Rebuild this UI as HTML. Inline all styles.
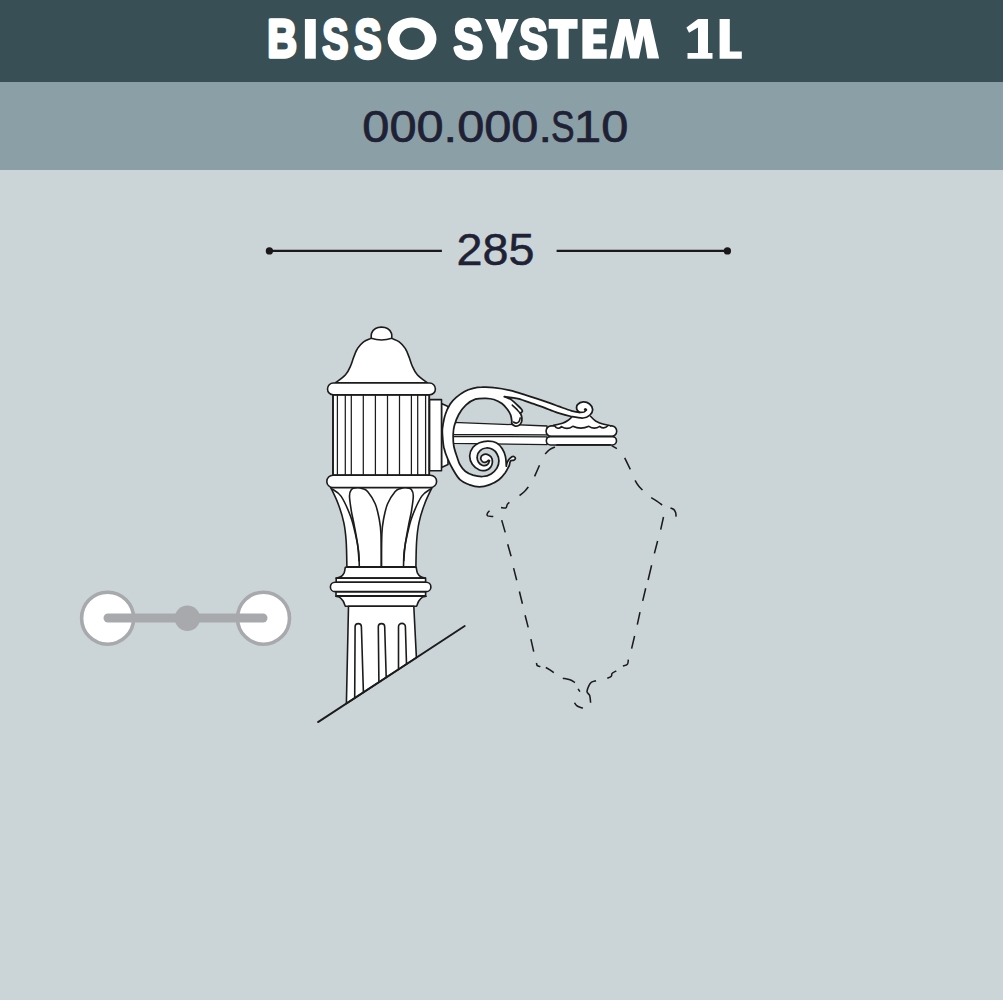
<!DOCTYPE html>
<html><head><meta charset="utf-8"><title>BISSO SYSTEM 1L</title>
<style>
html,body{margin:0;padding:0;background:#cbd5d8;}
body{width:1003px;height:1000px;overflow:hidden;font-family:"Liberation Sans",sans-serif;}
svg{display:block;}
text{font-family:"Liberation Sans",sans-serif;}
</style></head><body>
<svg width="1003" height="1000" viewBox="0 0 1003 1000">
<rect x="0" y="0" width="1003" height="1000" fill="#cbd5d8"/>
<rect x="0" y="0" width="1003" height="82" fill="#384f56"/>
<rect x="0" y="82" width="1003" height="88" fill="#8b9fa6"/>
<g fill="#ffffff">
<text transform="translate(267.35,57.00) scale(0.7800,1)" font-size="52.76" font-weight="bold" stroke="#fff" stroke-width="3.4" stroke-linejoin="round">B</text>
<rect x="304.9" y="19.0" width="10.9" height="39.7"/>
<text transform="translate(322.37,58.10) scale(0.7009,1)" font-size="55.96" font-weight="bold" stroke="#fff" stroke-width="3.4" stroke-linejoin="round">S</text>
<text transform="translate(354.22,58.10) scale(0.7308,1)" font-size="55.96" font-weight="bold" stroke="#fff" stroke-width="3.4" stroke-linejoin="round">S</text>
<path fill-rule="evenodd" d="M387.6,38.75 a24.45,21.15 0 1 0 48.9,0 a24.45,21.15 0 1 0 -48.9,0 Z M399.5,38.75 a12.7,11.2 0 1 0 25.4,0 a12.7,11.2 0 1 0 -25.4,0 Z"/>
<text transform="translate(453.43,58.10) scale(0.7904,1)" font-size="55.96" font-weight="bold" stroke="#fff" stroke-width="3.4" stroke-linejoin="round">S</text>
<polygon points="484.9,19.0 497.9,19.0 501.9,33.2 506.0,19.0 518.8,19.0 507.5,43.5 507.5,58.7 496.2,58.7 496.2,43.5"/>
<text transform="translate(519.27,58.10) scale(0.7606,1)" font-size="55.96" font-weight="bold" stroke="#fff" stroke-width="3.4" stroke-linejoin="round">S</text>
<polygon points="548.7,19.0 577.6,19.0 577.6,28.8 568.7,28.8 568.7,58.7 557.7,58.7 557.7,28.8 548.7,28.8"/>
<polygon points="582.4,19.0 606.7,19.0 606.7,28.6 593.4,28.6 593.4,34.3 605.2,34.3 605.2,43.5 593.4,43.5 593.4,49.2 606.7,49.2 606.7,58.7 582.4,58.7"/>
<polygon points="609.7,58.6 619.4,19.0 629.9,19.0 634.7,40.7 639.6,19.0 650.1,19.0 659.1,58.6 647.4,58.6 643.7,35.4 638.9,58.6 630.2,58.6 625.4,35.4 621.5,58.6"/>
<polygon points="698.0,19.0 708.0,19.0 708.0,53.1 712.5,53.1 712.5,58.8 687.5,58.8 687.5,53.1 698.0,53.1 698.0,27.6 689.0,32.7 686.4,27.6"/>
<polygon points="719.6,19.0 729.8,19.0 729.8,51.4 741.8,51.4 741.8,58.8 719.6,58.8"/>
</g>
<g fill="#1f2134" stroke="#1f2134" stroke-width="0.7" font-size="44.2"><text transform="translate(362.3,141.5) scale(1.1027,1)">000.000.</text><text transform="translate(551.0,141.5) scale(0.80,1)">S</text><text transform="translate(574.1,141.5) scale(1.1027,1)">10</text></g>
<text transform="translate(456.4,265.1) scale(1.035,1)" font-size="45.2" fill="#1f2134" stroke="#1f2134" stroke-width="0.5">285</text>
<g stroke="#1b181a" stroke-width="2.2" fill="#1b181a">
<line x1="269.4" y1="250.9" x2="441.9" y2="250.9"/>
<line x1="556.6" y1="250.9" x2="727.4" y2="250.9"/>
<circle cx="269.4" cy="250.9" r="3.65" stroke="none"/>
<circle cx="727.4" cy="250.9" r="3.65" stroke="none"/>
</g>
<!-- side icon -->
<g>
<circle cx="107.6" cy="618.2" r="26" fill="#ffffff" stroke="#a7a9ac" stroke-width="3.6"/>
<circle cx="263.5" cy="618.2" r="26" fill="#ffffff" stroke="#a7a9ac" stroke-width="3.6"/>
<line x1="108" y1="618" x2="263" y2="618" stroke="#a7a9ac" stroke-width="9" stroke-linecap="round"/>
<circle cx="187.4" cy="618.2" r="12.7" fill="#a7a9ac"/>
</g>
<!-- lamp -->
<g fill="#ffffff" stroke="#1c1c1c" stroke-width="1.6" stroke-linecap="round" stroke-linejoin="round">
<path d="M335.6,382.7C337.2,381.4 343.1,377.6 345.5,374.8 C348.0,372.1 349.2,369.0 350.5,366.1 C351.9,363.2 352.5,360.3 353.6,357.4 C354.8,354.5 355.7,351.3 357.4,348.7 C359.0,346.1 361.3,343.5 363.6,341.8 C365.9,340.1 370.0,339.0 371.2,338.4C371.3,337.6 370.9,334.7 371.6,333.1 C372.3,331.4 373.8,329.5 375.5,328.5 C377.1,327.5 379.5,327.1 381.5,327.1 C383.5,327.1 385.9,327.5 387.5,328.5 C389.2,329.5 390.7,331.4 391.4,333.1 C392.1,334.7 391.7,337.6 391.8,338.4C392.8,339.0 396.9,340.1 399.2,341.8 C401.5,343.5 403.8,346.1 405.4,348.7 C407.1,351.3 408.0,354.5 409.2,357.4 C410.3,360.3 410.9,363.2 412.3,366.1 C413.6,369.0 414.8,372.1 417.3,374.8 C419.7,377.6 425.6,381.4 427.2,382.7Z"/>
<path d="M371.2,338.3 Q381.4,341.6 391.8,338.3" fill="none"/>
<rect x="333" y="394.8" width="96.2" height="80.4" stroke-width="1.9"/>
<line x1="337.4" y1="394.8" x2="337.4" y2="475" stroke-width="1.25"/>
<line x1="345.3" y1="394.8" x2="345.3" y2="475" stroke-width="1.25"/>
<line x1="351.3" y1="394.8" x2="351.3" y2="475" stroke-width="1.25"/>
<line x1="363.3" y1="394.8" x2="363.3" y2="475" stroke-width="1.25"/>
<line x1="375.4" y1="394.8" x2="375.4" y2="475" stroke-width="1.25"/>
<line x1="387.5" y1="394.8" x2="387.5" y2="475" stroke-width="1.25"/>
<line x1="399.5" y1="394.8" x2="399.5" y2="475" stroke-width="1.25"/>
<line x1="411.4" y1="394.8" x2="411.4" y2="475" stroke-width="1.25"/>
<line x1="417.7" y1="394.8" x2="417.7" y2="475" stroke-width="1.25"/>
<line x1="425.6" y1="394.8" x2="425.6" y2="475" stroke-width="1.25"/>
<rect x="327.5" y="383" width="107.9" height="11.8" rx="5.9"/>
<path d="M330.5,487.1C331.8,489.9 335.9,497.8 338.1,503.7 C340.4,509.7 342.5,516.4 343.8,522.7 C345.2,529.1 345.7,534.4 346.2,541.7 C346.7,549.1 346.8,562.7 346.9,566.9L415.9,566.9C416.0,562.7 416.1,549.1 416.6,541.7 C417.1,534.4 417.6,529.1 419.0,522.7 C420.3,516.4 422.4,509.7 424.7,503.7 C426.9,497.8 431.0,489.9 432.3,487.1Z"/>
<path d="M331.5,488.5C333.1,489.8 337.8,491.6 341.0,496.1 C344.2,500.7 348.1,509.9 350.5,516.1 C352.9,522.3 353.9,527.3 355.2,533.2 C356.6,539.0 357.9,545.6 358.6,551.2 C359.2,556.8 359.2,564.3 359.3,566.9" fill="none"/>
<path d="M431.3,488.5C429.7,489.8 425.0,491.6 421.8,496.1 C418.6,500.7 414.7,509.9 412.3,516.1 C409.9,522.3 408.9,527.3 407.6,533.2 C406.2,539.0 404.9,545.6 404.2,551.2 C403.6,556.8 403.6,564.3 403.5,566.9" fill="none"/>
<path d="M359.0,560.7C358.8,558.0 358.4,550.4 357.6,544.6 C356.8,538.7 355.3,531.1 354.3,525.6 C353.3,520.0 352.2,516.2 351.4,511.3 C350.6,506.4 349.5,499.8 349.5,496.1 C349.5,492.5 350.3,490.9 351.4,489.5 C352.5,488.1 354.4,487.8 356.2,487.6 C357.9,487.4 360.0,487.7 361.9,488.4 C363.8,489.0 365.4,488.8 367.6,491.4 C369.8,494.0 373.3,499.3 375.2,503.7 C377.1,508.2 378.0,513.1 379.0,518.0 C379.9,522.9 380.5,525.0 380.9,533.2 C381.3,541.3 381.3,561.3 381.4,566.9" fill="none"/>
<path d="M403.8,560.7C404.0,558.0 404.4,550.4 405.2,544.6 C406.0,538.7 407.5,531.1 408.5,525.6 C409.5,520.0 410.6,516.2 411.4,511.3 C412.2,506.4 413.3,499.8 413.3,496.1 C413.3,492.5 412.5,490.9 411.4,489.5 C410.3,488.1 408.4,487.8 406.6,487.6 C404.9,487.4 402.8,487.7 400.9,488.4 C399.0,489.0 397.4,488.8 395.2,491.4 C393.0,494.0 389.5,499.3 387.6,503.7 C385.7,508.2 384.8,513.1 383.8,518.0 C382.9,522.9 382.3,525.0 381.9,533.2 C381.5,541.3 381.5,561.3 381.4,566.9" fill="none"/>
<rect x="326.8" y="475.2" width="109.8" height="12.4" rx="6.2"/>
<path d="M345.3,567.3C345.1,568.3 344.7,571.6 344.0,573.1 C343.2,574.7 342.0,576.0 340.7,576.8 C339.4,577.6 337.0,577.9 336.2,578.1L425.3,578.1C424.5,577.9 422.1,577.6 420.8,576.8 C419.5,576.0 418.3,574.7 417.5,573.1 C416.8,571.6 416.4,568.3 416.2,567.3Z"/>
<rect x="336.2" y="578.1" width="89.4" height="4.1"/>
<rect x="336.0" y="591.6" width="89.6" height="4.2"/>
<path d="M335.8,596.2C336.4,596.4 338.2,596.3 339.4,597.1 C340.7,597.9 342.1,599.5 343.1,601.0 C344.0,602.5 344.9,605.3 345.3,606.2L416.6,606.2C417.0,605.3 417.9,602.5 418.8,601.0 C419.8,599.5 421.2,597.9 422.5,597.1 C423.7,596.3 425.5,596.4 426.1,596.2Z"/>
<rect x="330.4" y="582.2" width="100.5" height="9.4" rx="4.7"/>
<path d="M348.5,606.3 L346.4,703.5 L416.4,657.6 L413.8,606.3 Z"/>
<path d="M354.7,698.1 L355.1,626.8 A3.1,3.1 0 0 1 361.4,626.8 L363.4,692.4" fill="none"/>
<path d="M378.9,682.2 L378.3,626.8 A3.2,3.2 0 0 1 384.7,626.8 L386.2,677.4" fill="none"/>
<path d="M398.5,669.4 L398.5,626.8 A3.4,3.4 0 0 1 405.4,626.8 L406.5,664.1" fill="none"/>
<line x1="318" y1="722.1" x2="464.7" y2="626" stroke-width="1.9"/>
<path d="M441.5,403.6 L448,406.6 L448,464.4 L441.5,467.4 Z"/>
<rect x="429.6" y="399.6" width="11.9" height="71.2"/>
<path d="M453,422.3 L547,426 L547,434.9 L453,434.3 Z" stroke-width="1.3"/>
<path d="M453,436.3 L547,436.9 L547,444.6 L453,443.3 Z" stroke-width="1.3"/>
<rect x="546.1" y="425.9" width="70.6" height="10.5" rx="5.2"/>
<path d="M553.5,425.4C555.0,425.1 560.0,424.0 562.4,423.2 C564.8,422.4 566.3,421.5 567.8,420.5 C569.3,419.5 570.8,417.9 571.4,417.4L590.7,416.5C591.5,417.2 593.6,419.7 595.6,421.0 C597.7,422.2 600.3,423.3 602.8,424.1 C605.3,424.9 609.2,425.4 610.4,425.7L609,428.6 L555,428.6 Z" stroke="none"/>
<path d="M553.5,425.4C555.0,425.1 560.0,424.0 562.4,423.2 C564.8,422.4 566.3,421.5 567.8,420.5 C569.3,419.5 570.8,417.9 571.4,417.4" fill="none"/>
<path d="M590.7,416.5C591.5,417.2 593.6,419.7 595.6,421.0 C597.7,422.2 600.3,423.3 602.8,424.1 C605.3,424.9 609.2,425.4 610.4,425.7" fill="none"/>
<path d="M554.4,425.7 Q557.9,430.2 561.5,426.6 Q567.1,430.2 572.8,426.3 Q580.8,429.9 588.9,426.3 Q594.3,429.9 599.7,426.3 Q603.9,429.9 608.2,425.5" fill="none"/>
<rect x="546.3" y="436.6" width="70.2" height="8.4" rx="4.2"/>
<line x1="557" y1="444.9" x2="610" y2="444.9" stroke-width="1.8"/>
<path d="M579.5,412.4C578.1,412.2 575.0,411.9 571.4,410.8 C567.8,409.8 561.5,407.4 557.9,406.2 C554.4,404.9 555.3,405.0 550.0,403.1 C544.6,401.3 532.5,397.3 525.8,395.2 C519.1,393.0 515.2,391.6 509.9,390.4 C504.6,389.1 498.6,388.1 493.9,387.6 C489.3,387.0 485.4,387.0 482.0,387.2 C478.5,387.3 475.9,387.7 473.0,388.4 C470.1,389.1 467.4,389.9 464.6,391.4 C461.8,392.9 458.6,395.3 456.2,397.4 C453.8,399.5 452.0,401.1 450.2,404.0 C448.4,406.9 446.4,410.8 445.2,414.8 C443.9,418.8 443.0,424.6 442.5,428.0 C442.1,431.4 442.3,432.0 442.5,435.2 C442.7,438.4 443.0,443.2 443.8,447.2 C444.7,451.2 446.3,455.6 447.8,459.2 C449.3,462.8 450.6,465.4 452.6,468.8 C454.6,472.2 457.1,477.0 460.0,479.7 C462.9,482.4 466.5,483.7 469.7,484.9 C473.0,486.1 476.2,486.8 479.4,486.8 C482.7,486.8 485.9,486.1 489.2,484.9 C492.4,483.7 496.2,481.8 498.9,479.7 C501.6,477.7 503.6,475.0 505.4,472.6 C507.1,470.2 508.6,466.6 509.3,465.5C509.5,464.7 509.8,461.8 510.6,460.9 C511.3,460.1 513.0,460.7 513.8,460.3 C514.6,459.8 515.5,459.0 515.4,458.3 C515.3,457.7 514.1,456.4 513.1,456.4 C512.2,456.4 510.9,457.4 509.9,458.3 C508.9,459.3 507.9,460.9 507.3,462.2 C506.7,463.5 506.5,465.5 506.3,466.1C506.2,464.5 506.1,459.3 505.4,456.4 C504.7,453.5 503.6,450.9 502.1,448.6 C500.6,446.3 498.7,444.0 496.3,442.8 C493.9,441.5 490.7,441.2 487.9,441.2 C485.1,441.2 481.9,441.8 479.4,442.8 C477.0,443.8 474.6,445.2 473.0,447.3 C471.3,449.5 469.8,452.9 469.7,455.7 C469.6,458.5 470.7,461.8 472.3,464.2 C473.9,466.5 477.2,469.0 479.4,470.0 C481.7,471.0 484.1,470.8 485.9,470.3 C487.8,469.9 489.4,468.8 490.5,467.4 C491.5,466.1 492.3,463.9 492.4,462.2 C492.5,460.5 492.0,458.3 491.1,457.0 C490.2,455.7 488.6,454.8 487.2,454.4 C485.8,454.1 483.8,454.4 482.7,455.1 C481.6,455.7 480.8,457.3 480.7,458.3 C480.7,459.4 481.5,460.9 482.4,461.6 C483.2,462.2 484.9,462.4 485.9,462.2 C486.9,462.0 488.1,460.6 488.5,460.3C488.7,460.4 489.7,460.2 489.5,460.9 C489.3,461.7 488.4,464.1 487.2,464.8 C486.1,465.6 484.1,465.9 482.7,465.5 C481.2,465.0 479.4,463.7 478.5,462.2 C477.6,460.7 476.9,458.3 477.2,456.4 C477.4,454.4 478.6,452.0 480.1,450.6 C481.5,449.1 483.9,448.2 485.9,448.0 C488.0,447.7 490.6,448.3 492.4,449.3 C494.2,450.2 495.9,451.9 496.9,453.8 C498.0,455.7 498.9,458.5 498.9,460.9 C498.9,463.3 498.2,465.9 496.9,468.1 C495.6,470.2 493.5,472.5 491.1,473.9 C488.7,475.3 485.7,476.3 482.7,476.5 C479.7,476.7 475.9,476.0 473.0,475.2 C470.0,474.3 467.3,473.0 465.2,471.3 C463.0,469.6 461.3,467.0 460.0,464.8 C458.7,462.6 458.4,461.1 457.4,458.0 C456.4,454.9 454.5,450.0 453.8,446.0 C453.1,442.0 453.1,437.4 453.2,434.0 C453.3,430.6 453.5,428.8 454.4,425.6 C455.3,422.4 456.7,418.2 458.6,414.8 C460.5,411.4 463.0,407.8 465.8,405.2 C468.6,402.6 472.0,400.3 475.4,399.2 C478.8,398.1 482.9,398.3 485.9,398.3 C489.0,398.4 491.3,398.7 493.9,399.5 C496.6,400.4 499.6,401.9 501.9,403.5 C504.2,405.2 506.0,407.6 507.5,409.5 C508.9,411.4 509.9,413.1 510.7,415.1 C511.4,417.1 511.7,420.4 511.9,421.5C511.9,421.8 511.4,422.7 511.9,423.5 C512.3,424.2 513.5,425.5 514.7,425.9 C515.8,426.2 517.5,426.1 518.6,425.5 C519.8,424.9 520.9,423.6 521.4,422.3 C522.0,420.9 521.9,418.8 521.8,417.5 C521.7,416.2 521.2,415.2 520.9,414.4 C520.6,413.7 520.1,413.1 520.0,412.9C520.2,412.8 521.0,412.6 521.4,412.4 C521.8,412.1 522.4,411.7 522.4,411.3 C522.4,410.8 522.4,410.5 521.7,409.5 C520.9,408.5 519.5,407.1 517.8,405.5 C516.1,403.9 513.7,401.4 511.5,399.9 C509.2,398.4 505.5,397.1 504.3,396.6C506.5,396.9 512.9,397.5 517.8,398.7 C522.8,400.0 528.4,402.1 533.8,403.9 C539.2,405.8 546.0,408.4 550.0,409.9 C554.0,411.4 554.4,411.8 557.9,412.9 C561.5,414.0 567.2,415.6 571.4,416.5 C575.6,417.3 580.0,418.2 583.1,418.0 C586.2,417.8 588.3,416.5 589.9,415.1 C591.5,413.7 592.7,411.4 592.7,409.6 C592.6,407.7 591.2,405.3 589.6,404.0 C588.1,402.7 585.3,401.7 583.3,401.8 C581.2,401.9 578.6,403.4 577.5,404.6 C576.4,405.9 576.5,408.0 576.8,409.3 C577.1,410.6 579.0,411.9 579.5,412.4Z" stroke-linejoin="round" stroke-width="1.75"/>
<path d="M579.5,412.4C580.2,412.4 582.8,412.5 584.0,412.1 C585.1,411.7 586.1,410.3 586.5,409.9" fill="none"/>
<circle cx="585.4" cy="409.6" r="1.5" fill="#1c1c1c" stroke="none"/>
<path d="M520.0,412.9C519.4,412.2 517.5,410.2 516.3,408.9 C515.0,407.6 512.9,405.7 512.3,405.1" fill="none"/>
<path d="M520.2,417.9C520.0,418.5 519.7,420.6 519.0,421.5 C518.4,422.3 517.2,423.0 516.3,423.1 C515.3,423.2 513.9,422.2 513.5,422.0" fill="none"/>
</g>
<path d="M554.9,447.0C553.9,447.5 550.9,448.6 549.3,449.8 C547.6,451.0 545.8,453.3 545.1,454.0 M539.5,465.2 L534.6,476.4 M528.3,486.9C527.7,487.7 526.0,490.1 524.5,491.5 C523.1,493.0 520.4,494.9 519.6,495.6 M509.4,502.3C509.0,502.6 507.9,503.4 507.3,504.4 C506.7,505.3 506.9,507.3 505.9,507.9 C504.8,508.4 501.8,507.6 501.0,507.6 M489.5,510.7C489.1,511.1 487.6,512.6 487.3,513.5 C487.0,514.3 486.7,515.3 487.7,515.9 C488.7,516.4 492.4,516.4 493.3,516.6 M501.7,520.1 L505.2,532.4 M507.7,544.3 L511.1,556.2 M513.6,568.1 L516.7,580.2 M519.4,591.5 L522.4,603.7 M525.1,615.2 L528.2,627.4 M530.9,639.1 L533.7,651.7 M536.4,663.0C536.6,663.4 536.7,665.1 537.3,665.7 C538.0,666.3 539.9,666.4 540.4,666.6 M545.8,667.5C546.5,667.8 548.5,668.9 549.9,669.8 C551.2,670.7 553.2,672.2 553.8,672.7 M562.8,678.2C564.0,678.5 568.0,679.1 570.0,679.8 C572.0,680.6 574.2,682.1 575.0,682.5 M578.1,688.8 L579.9,691.7 M574.5,702.8C574.9,703.3 575.8,705.1 577.2,706.0 C578.6,706.9 582.0,707.8 582.9,708.2 M590.6,702.8C590.5,701.6 590.3,697.5 589.7,695.6 C589.1,693.8 587.2,693.3 587.0,691.7 C586.9,690.0 588.1,687.3 588.8,685.8 C589.6,684.2 590.3,683.0 591.5,682.2 C592.7,681.3 595.3,681.0 596.0,680.7 M607.3,678.2C608.0,677.9 610.5,677.1 611.3,676.2 C612.1,675.4 611.3,674.1 612.2,673.2 C613.0,672.3 615.6,671.3 616.3,670.9 M622.9,666.0C623.7,665.7 626.5,665.3 627.4,664.2 C628.3,663.2 628.2,660.5 628.3,659.7 M631.6,648.6 L634.6,636.0 M637.3,624.7 L640.0,612.2 M642.7,600.9 L645.7,588.3 M651.6,565.3 L648.1,580.0 M657.6,541.0 L654.4,553.4 M663.5,517.0 L660.7,529.6 M670.5,507.9C671.1,508.2 673.1,508.7 674.0,509.6 C674.8,510.4 675.3,511.6 675.7,512.8 C676.0,514.0 676.0,516.0 676.1,516.7 M651.2,497.7C652.2,498.3 655.4,500.1 657.2,501.3 C659.0,502.5 661.3,504.5 662.1,505.1 M635.1,480.3C635.6,481.2 637.0,483.9 638.3,485.5 C639.5,487.1 641.8,489.3 642.5,490.1 M624.7,457.9 L630.3,469.4 M611.7,445.6 L616.9,448.7" fill="none" stroke="#1c1c1c" stroke-width="1.55" stroke-linecap="butt"/>
</svg>
</body></html>
